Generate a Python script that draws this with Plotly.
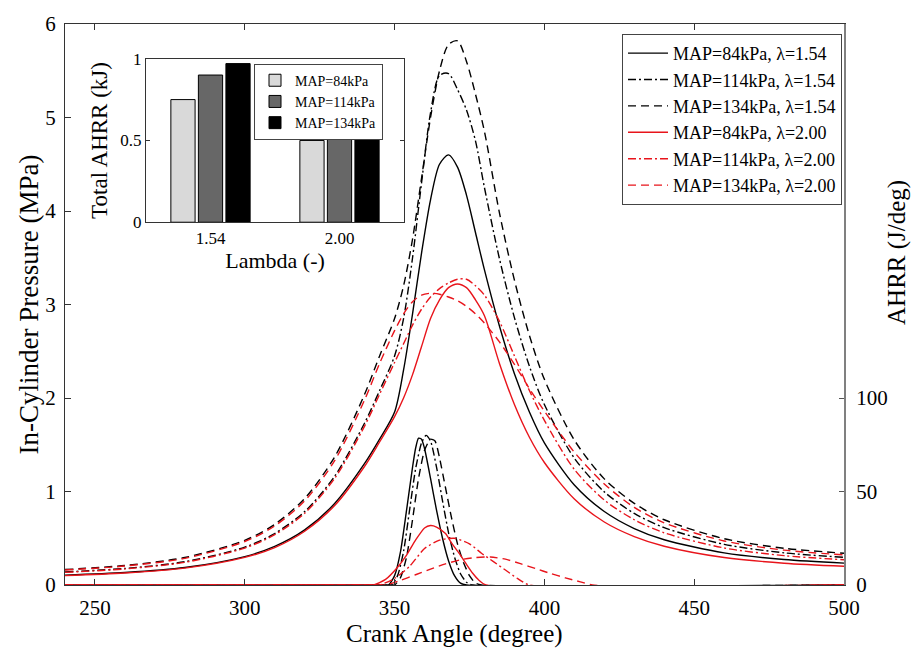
import plotly.graph_objects as go

# ---------------- data ----------------
ca_p = [240, 260, 280, 300, 310, 320, 330, 340, 345, 350, 353, 356, 359, 362, 365, 368,
        371, 374, 377, 380, 385, 390, 395, 400, 410, 420, 430, 440, 460, 480, 500]

p_84_154 = [.105, .133, .187, .304, .413, .589, .872, 1.30, 1.56, 1.85, 2.3, 2.9, 3.55, 4.12, 4.5, 4.6,
            4.47, 4.17, 3.77, 3.37, 2.77, 2.26, 1.85, 1.52, 1.07, .786, .604, .484, .343, .272, .234]
p_114_154 = [.14, .177, .249, .405, .551, .785, 1.163, 1.733, 2.08, 2.45, 2.85, 3.5, 4.3, 5.05, 5.45, 5.47,
             5.3, 5.08, 4.75, 4.25, 3.49, 2.86, 2.34, 1.93, 1.356, .996, .765, .613, .435, .344, .296]
p_134_154 = [.165, .209, .294, .478, .649, .925, 1.37, 2.04, 2.45, 2.85, 3.2, 3.7, 4.35, 5.0, 5.5, 5.78,
             5.82, 5.6, 5.25, 4.85, 3.98, 3.26, 2.67, 2.2, 1.55, 1.135, .873, .698, .495, .393, .34]
p_84_200 = [.10, .128, .18, .295, .40, .575, .85, 1.27, 1.53, 1.80, 2.0, 2.25, 2.55, 2.85, 3.05, 3.18,
            3.22, 3.18, 3.05, 2.88, 2.37, 1.93, 1.58, 1.31, .92, .674, .518, .415, .294, .233, .20]
p_114_200 = [.135, .172, .242, .395, .538, .768, 1.14, 1.70, 2.04, 2.38, 2.58, 2.78, 2.95, 3.08, 3.17, 3.23,
             3.27, 3.27, 3.2, 3.1, 2.82, 2.45, 2.08, 1.76, 1.236, .908, .698, .558, .396, .314, .27]
p_134_200 = [.16, .203, .285, .465, .632, .90, 1.33, 1.98, 2.37, 2.72, 2.9, 3.03, 3.1, 3.12, 3.11, 3.08,
             3.04, 2.98, 2.9, 2.8, 2.6, 2.36, 2.1, 1.86, 1.42, 1.08, .83, .665, .471, .373, .322]

ca_h_84_154 = [240, 346, 348, 350, 352, 354, 356, 357, 358, 359, 360, 362, 364, 366, 368, 370, 372, 374, 500]
h_84_154 = [0, 0, 0, 5, 18, 40, 63, 73, 78.5, 78, 73, 57, 40, 25, 13, 5, 1, 0, 0]
ca_h_114_154 = [240, 347, 349, 351, 353, 355, 357, 359, 360.5, 362, 364, 366, 368, 370, 372, 374, 376, 500]
h_114_154 = [0, 0, 0, 5, 18, 40, 62, 76, 80, 77, 63, 45, 28, 15, 6, 1.5, 0, 0]
ca_h_134_154 = [240, 348, 350, 352, 354, 356, 358, 360, 362, 363.5, 365, 367, 369, 371, 373, 375, 377, 379, 500]
h_134_154 = [0, 0, 0, 4, 15, 35, 57, 72, 78, 77, 68, 52, 36, 22, 12, 5, 1, 0, 0]
ca_h_84_200 = [240, 341, 343, 347, 351, 354, 357, 360, 362, 364, 367, 369, 371.5, 374, 376, 378, 380.5, 500]
h_84_200 = [0, 0, 0, 3, 9.5, 16, 24, 30.5, 31.8, 31, 27.5, 22.5, 17, 11, 6.4, 2.8, 0, 0]
ca_h_114_200 = [240, 343, 345, 350, 355, 360, 365, 370, 375, 379, 383, 387, 391, 395, 500]
h_114_200 = [0, 0, 0, 3.5, 10, 19.5, 24, 25, 22, 17, 12.5, 8, 3.5, 0, 0]
ca_h_134_200 = [240, 345, 347, 352, 357, 362, 367, 372, 377, 382, 387, 392, 397, 402, 407, 412, 416, 500]
h_134_200 = [0, 0, 0, 2.5, 5.5, 8.5, 11.3, 13.5, 14.7, 15, 13.8, 11.4, 8.8, 6.2, 3.8, 1.7, 0, 0]

labels = ["MAP=84kPa, λ=1.54", "MAP=114kPa, λ=1.54", "MAP=134kPa, λ=1.54",
          "MAP=84kPa, λ=2.00", "MAP=114kPa, λ=2.00", "MAP=134kPa, λ=2.00"]

lambda_cats = ["1.54", "2.00"]
bar_names = ["MAP=84kPa", "MAP=114kPa", "MAP=134kPa"]
ahrr_84 = [0.75, 0.50]
ahrr_114 = [0.90, 0.555]
ahrr_134 = [0.97, 0.52]

# ---------------- style ----------------
FONT = "Liberation Serif, Times New Roman, serif"
BLACK = "#000000"
RED = "#e8141b"
SOLID = "solid"
DASHDOT = "8px,3px,2px,3px"
DASH = "8px,5px"
LW = 1.4

pressures = [p_84_154, p_114_154, p_134_154, p_84_200, p_114_200, p_134_200]
ahrr_x = [ca_h_84_154, ca_h_114_154, ca_h_134_154, ca_h_84_200, ca_h_114_200, ca_h_134_200]
ahrr_y = [h_84_154, h_114_154, h_134_154, h_84_200, h_114_200, h_134_200]
colors = [BLACK, BLACK, BLACK, RED, RED, RED]
dashes = [SOLID, DASHDOT, DASH, SOLID, DASHDOT, DASH]

fig = go.Figure()

for i in range(6):
    fig.add_trace(go.Scatter(
        x=ca_p, y=pressures[i], mode="lines", name=labels[i],
        line=dict(color=colors[i], width=LW, dash=dashes[i], shape="spline", smoothing=0.8),
        legendgroup=str(i), xaxis="x", yaxis="y", legend="legend"))
    fig.add_trace(go.Scatter(
        x=ahrr_x[i], y=ahrr_y[i], mode="lines", name=labels[i], showlegend=False,
        line=dict(color=colors[i], width=LW, dash=dashes[i], shape="spline", smoothing=0.6),
        legendgroup=str(i), xaxis="x", yaxis="y2"))

bar_vals = [ahrr_84, ahrr_114, ahrr_134]
bar_cols = ["#d9d9d9", "#676767", "#000000"]
for i in range(3):
    fig.add_trace(go.Bar(
        x=lambda_cats, y=bar_vals[i], name=bar_names[i],
        marker=dict(color=bar_cols[i], line=dict(color="black", width=1)),
        xaxis="x3", yaxis="y3", legend="legend2"))

L, R, T, B = 65, 73, 19, 65
W, H = 917, 650
pw, ph = W - L - R, H - T - B

def px_x(x):
    return (x - L) / pw

def px_y(y):
    return (H - B - y) / ph

fig.update_layout(
    width=W, height=H,
    margin=dict(l=L, r=R, t=T, b=B, pad=0),
    paper_bgcolor="white", plot_bgcolor="white",
    font=dict(family=FONT, color="black", size=20),
    barmode="group", bargap=0.36, bargroupgap=0.12,
    xaxis=dict(domain=[0, 1], range=[240, 500], tickvals=[250, 300, 350, 400, 450, 500],
               ticks="inside", ticklen=6, tickcolor="#333", showline=True, linecolor="#333",
               linewidth=1, mirror="ticks", showgrid=False, zeroline=False,
               tickfont=dict(size=21), ticklabelstandoff=4),
    yaxis=dict(domain=[0, 1], range=[0, 6], tickvals=[0, 1, 2, 3, 4, 5, 6],
               ticks="inside", ticklen=6, tickcolor="#333", showline=True, linecolor="#333",
               linewidth=1, showgrid=False, zeroline=False, tickfont=dict(size=21),
               ticklabelstandoff=4),
    yaxis2=dict(overlaying="y", side="right", anchor="x", range=[0, 300],
                tickvals=[0, 50, 100], ticks="inside", ticklen=5, tickcolor="#555",
                showline=True, linecolor="#808080", linewidth=2, showgrid=False,
                zeroline=False, tickfont=dict(size=21), ticklabelstandoff=6),
    xaxis3=dict(domain=[px_x(146), px_x(404)], anchor="y3", type="category",
                range=[-0.5, 1.5], showline=True, linecolor="#333", mirror=True,
                ticks="", showgrid=False, tickfont=dict(size=17),
                title=dict(text="Lambda (-)", font=dict(size=22), standoff=2)),
    yaxis3=dict(domain=[px_y(219), px_y(54)], anchor="x3", range=[0, 1],
                tickvals=[0, 0.5, 1], ticktext=["0", "0.5", "1"], ticks="inside",
                ticklen=4, tickcolor="#333", showline=True, linecolor="#333", mirror="ticks",
                showgrid=False, zeroline=False, tickfont=dict(size=17),
                title=dict(text="Total AHRR (kJ)", font=dict(size=23), standoff=6)),
    legend=dict(x=px_x(842), xanchor="right", y=px_y(29), yanchor="top",
                bgcolor="white", bordercolor="#444", borderwidth=1,
                font=dict(size=18, family=FONT), tracegroupgap=0, itemwidth=40,
                itemclick=False, itemdoubleclick=False),
    legend2=dict(x=px_x(254), xanchor="left", y=px_y(59), yanchor="top",
                 bgcolor="white", bordercolor="#444", borderwidth=1,
                 font=dict(size=14, family=FONT), tracegroupgap=0,
                 itemclick=False, itemdoubleclick=False),
    showlegend=True,
    annotations=[
        dict(text="Crank Angle (degree)", xref="paper", yref="paper",
             x=0.5, y=px_y(634), xanchor="center", yanchor="middle",
             showarrow=False, font=dict(size=25, family=FONT)),
        dict(text="In-Cylinder Pressure (MPa)", xref="paper", yref="paper",
             x=px_x(28), y=px_y(302), xanchor="center", yanchor="middle", textangle=-90,
             showarrow=False, font=dict(size=27, family=FONT)),
        dict(text="AHRR (J/deg)", xref="paper", yref="paper",
             x=px_x(897), y=px_y(250), xanchor="center", yanchor="middle", textangle=-90,
             showarrow=False, font=dict(size=25, family=FONT)),
    ],
)

fig.write_html("out.html", config={"displayModeBar": False},
               post_script="document.body.style.margin='0';")
